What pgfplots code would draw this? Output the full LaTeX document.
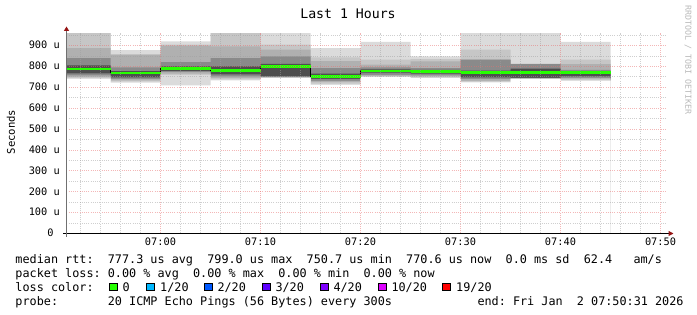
\documentclass[border=0pt]{standalone}
\usepackage{fontspec}
\setmainfont{DejaVu Sans Mono}
\setmonofont{DejaVu Sans Mono}
\usepackage{pgfplots}
\pgfplotsset{compat=1.18}
\usepackage{pgfplotstable}
\usetikzlibrary{arrows.meta}

\definecolor{Lone}{HTML}{DBDBDB}
\definecolor{Ltwo}{HTML}{C6C6C6}
\definecolor{Lthree}{HTML}{B0B0B0}
\definecolor{Lfour}{HTML}{8A8A8A}
\definecolor{Lfive}{HTML}{4E4E4E}
\definecolor{lossA}{HTML}{26FF00}
\definecolor{lossB}{HTML}{00B8FF}
\definecolor{lossC}{HTML}{0059FF}
\definecolor{lossD}{HTML}{5E00FF}
\definecolor{lossE}{HTML}{7E00FF}
\definecolor{lossF}{HTML}{DD00FF}
\definecolor{lossG}{HTML}{FF0000}
\definecolor{mgrid}{HTML}{E87070}
\definecolor{ngrid}{HTML}{A0A0A0}
\definecolor{axgray}{HTML}{707070}
\definecolor{arrowred}{HTML}{961414}

% smoke layers (microseconds): lo1=min ... hi1=max, med=median
\pgfplotstableread{
x   lo1 lo2 lo3 lo4 lo5 hi5 hi4 hi3 hi2 hi1 med
-10 740 745 750 757 767 805 840 888 960 960 788
-5  722 728 733 740 748 778 795 855 859 878 769
0   709 760 765 773 778 800 820 900 904 920 789
5   733 738 744 752 762 800 840 896 960 960 781
10  744 746 748 750 752 812 848 880 904 960 799
15  712 718 725 731 740 765 792 825 843 888 751
20  749 752 755 760 770 786 795 808 832 917 779
25  744 748 752 757 765 784 792 824 835 848 777
30  723 727 731 740 747 780 832 832 880 960 771
35  740 741 741 742 745 789 811 812 812 960 771
40  731 736 741 745 752 778 784 811 832 917 771
45  731 736 741 745 752 778 784 811 832 917 771
}\smoke

\begin{document}
\begin{tikzpicture}
\path[use as bounding box] (0,0) rectangle (697pt,315pt);
\begin{axis}[
  at={(66.5pt,81.5pt)}, anchor=south west,
  scale only axis, width=600pt, height=200.5pt,
  axis on top,
  xmin=-9.4, xmax=50.6, ymin=0, ymax=960,
  xtick={0,10,20,30,40,50},
  xticklabels={07:00,07:10,07:20,07:30,07:40,07:50},
  ytick={0,100,200,300,400,500,600,700,800,900},
  yticklabels={~~0~~,100~u,200~u,300~u,400~u,500~u,600~u,700~u,800~u,900~u},
  minor xtick={-8,-6,-4,-2,2,4,6,8,12,14,16,18,22,24,26,28,32,34,36,38,42,44,46,48},
  minor ytick={50,150,250,350,450,550,650,750,850,950},
  grid=both,
  major grid style={draw=mgrid, opacity=0.5, dash pattern=on 1pt off 1.2pt, line width=0.9pt},
  minor grid style={draw=ngrid, opacity=0.5, dash pattern=on 1pt off 1.2pt, line width=0.9pt},
  axis line style={draw=none},
  major tick length=0pt, minor tick length=0pt,
  /pgf/number format/assume math mode=true,
  xticklabel style={anchor=base, inner sep=0pt, yshift=-12pt, font=\fontsize{10.3}{12}\selectfont},
  yticklabel style={anchor=base east, inner sep=0pt, xshift=-6.5pt, yshift=-3.3pt, font=\fontsize{10.3}{12}\selectfont},
]
\addplot[fill=Lone,   draw=none, const plot] table[x=x,y=hi1]{\smoke} \closedcycle;
\addplot[fill=Ltwo,   draw=none, const plot] table[x=x,y=hi2]{\smoke} \closedcycle;
\addplot[fill=Lthree, draw=none, const plot] table[x=x,y=hi3]{\smoke} \closedcycle;
\addplot[fill=Lfour,  draw=none, const plot] table[x=x,y=hi4]{\smoke} \closedcycle;
\addplot[fill=Lfive,  draw=none, const plot] table[x=x,y=hi5]{\smoke} \closedcycle;
\addplot[fill=Lfour,  draw=none, const plot] table[x=x,y=lo5]{\smoke} \closedcycle;
\addplot[fill=Lthree, draw=none, const plot] table[x=x,y=lo4]{\smoke} \closedcycle;
\addplot[fill=Ltwo,   draw=none, const plot] table[x=x,y=lo3]{\smoke} \closedcycle;
\addplot[fill=Lone,   draw=none, const plot] table[x=x,y=lo2]{\smoke} \closedcycle;
\addplot[fill=white,  draw=none, const plot] table[x=x,y=lo1]{\smoke} \closedcycle;
\addplot[black, line width=0.8pt, const plot] table[x=x,y=med]{\smoke};
\addplot[lossA, line width=2.6pt, jump mark left] table[x=x,y=med]{\smoke};
\end{axis}
% axis lines
\draw[line width=1pt, black, -{Triangle[length=5pt,width=5pt,color=arrowred]}] (63pt,81.5pt) -- (673.5pt,81.5pt);
\draw[line width=1pt, axgray, -{Triangle[length=4.5pt,width=5pt,color=arrowred]}] (66.5pt,78pt) -- (66.5pt,288.5pt);
% title and labels
\node[anchor=base, inner sep=0pt, font=\fontsize{13.2}{15}\selectfont] at (348pt,296.7pt) {Last~1~Hours};
\node[rotate=90, inner sep=0pt, font=\fontsize{10.6}{12}\selectfont] at (11pt,183pt) {Seconds};
\node[rotate=-90, inner sep=0pt, text=gray!55, font=\fontsize{8.3}{10}\selectfont] at (688pt,255pt) {RRDTOOL~/~TOBI~OETIKER};
% legend
\begin{scope}[every node/.style={anchor=base west, inner sep=0pt, font=\fontsize{11.8}{14}\selectfont}]
\node at (15.3pt,51.7pt) {median~rtt:~~777.3~us~avg~~799.0~us~max~~750.7~us~min~~770.6~us~now~~0.0~ms~sd~~62.4~~~am/s};
\node at (15.3pt,37.7pt) {packet~loss:~0.00~\%~avg~~0.00~\%~max~~0.00~\%~min~~0.00~\%~now};
\node at (15.3pt,23.7pt) {loss~color:};
\node at (122.3pt,23.7pt) {0};
\node at (160pt,23.7pt) {1/20};
\node at (217.3pt,23.7pt) {2/20};
\node at (275.3pt,23.7pt) {3/20};
\node at (333.3pt,23.7pt) {4/20};
\node at (391.3pt,23.7pt) {10/20};
\node at (456pt,23.7pt) {19/20};
\node at (15.3pt,9.7pt) {probe:~~~~~~~20~ICMP~Echo~Pings~(56~Bytes)~every~300s};
\node at (477.3pt,9.7pt) {end:~Fri~Jan~~2~07:50:31~2026};
\end{scope}
\begin{scope}[every node/.style={draw=black, line width=0.8pt, minimum size=7.6pt, inner sep=0pt, anchor=south west}]
\node[fill=lossA] at (108.9pt,23.7pt) {};
\node[fill=lossB] at (146.2pt,23.7pt) {};
\node[fill=lossC] at (204.2pt,23.7pt) {};
\node[fill=lossD] at (262.2pt,23.7pt) {};
\node[fill=lossE] at (320.2pt,23.7pt) {};
\node[fill=lossF] at (378pt,23.7pt) {};
\node[fill=lossG] at (442.2pt,23.7pt) {};
\end{scope}
\end{tikzpicture}
\end{document}
